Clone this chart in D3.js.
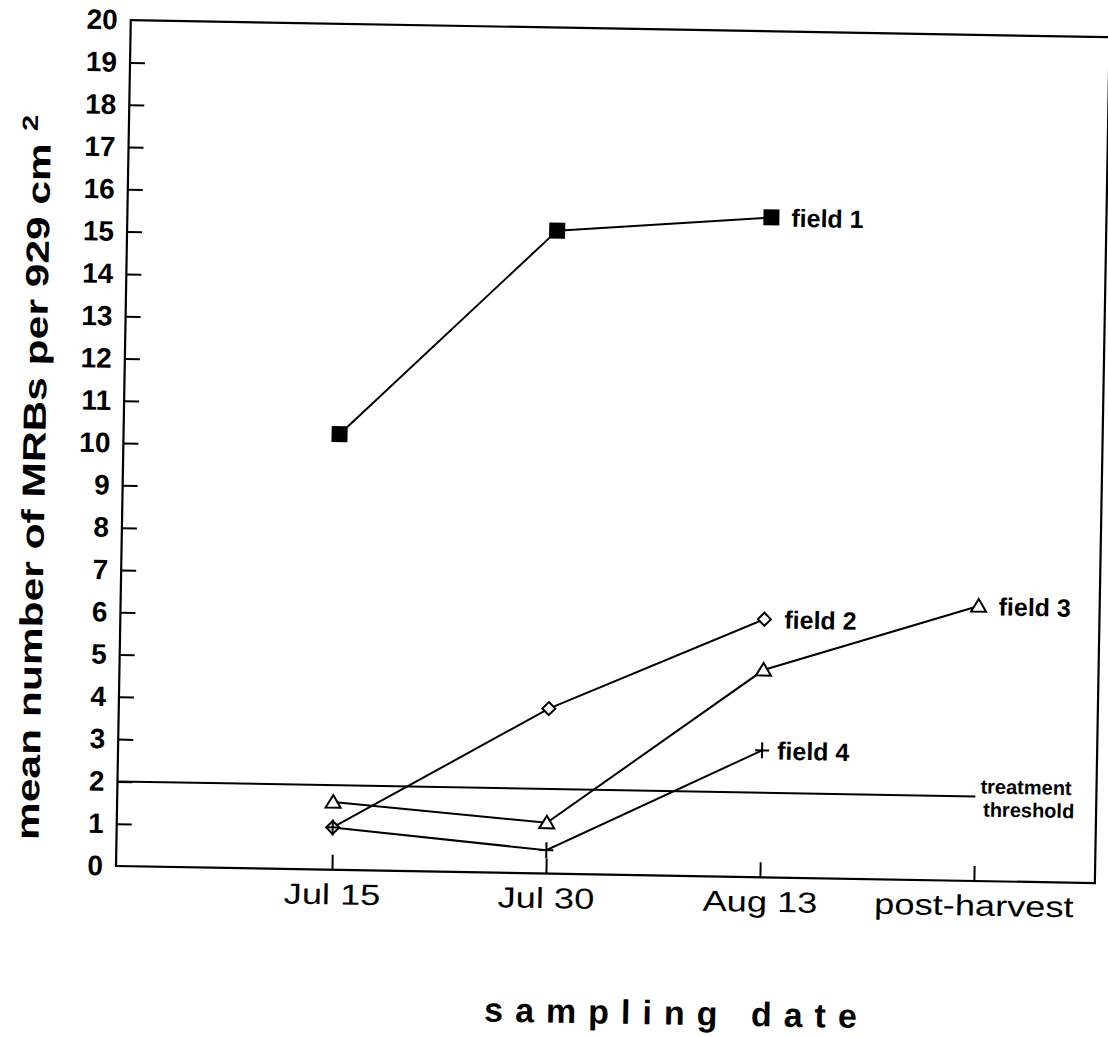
<!DOCTYPE html>
<html><head><meta charset="utf-8">
<script src="https://cdn.jsdelivr.net/npm/d3@7"></script>
<style>body{margin:0;background:#fff}svg{display:block}</style>
</head><body>
<svg id="c" width="1108" height="1037"></svg>
<script>
// ---- data ----
const categories = ["Jul 15", "Jul 30", "Aug 13", "post-harvest"];
const seriesNames = ["field 1", "field 2", "field 3", "field 4"];
const field1 = [10.3, 15.2, 15.6, null];
const field2 = [1.0, 3.9, 6.1, null];
const field3 = [1.6, 1.2, 4.9, 6.5];
const field4 = [1.0, 0.55, 3.0, null];
const yTickValues = d3.range(0, 21);
const threshold = 2;
const thresholdLabel = ["treatment", "threshold"];
const yTitle = "mean number of MRBs per 929 cm";
const yTitleSup = "2";
const xTitle = "sampling date";

// ---- layout ----
const W = 1108, H = 1037;
const pLeft = 116, pRight = 1095, pTop = 20, pBottom = 866;
const font = "'Liberation Sans', Arial, Helvetica, sans-serif";

const svg = d3.select("#c");
svg.append("rect").attr("width", W).attr("height", H).attr("fill", "#fff");
const g = svg.append("g").attr("transform", `rotate(1.0,${pLeft},${pBottom})`);

const x = d3.scalePoint().domain(categories).range([332, 974]);
const y = d3.scaleLinear().domain([0, 20]).range([pBottom, pTop]);

// frame
g.append("rect").attr("x", pLeft).attr("y", pTop)
  .attr("width", pRight - pLeft).attr("height", pBottom - pTop)
  .attr("fill", "none").attr("stroke", "#000").attr("stroke-width", 2.2);

// y axis
const ya = g.append("g").attr("transform", `translate(${pLeft},0)`)
  .call(d3.axisLeft(y).tickValues(yTickValues).tickFormat(d3.format("d"))
    .tickSize(-15).tickPadding(13));
ya.select(".domain").remove();
ya.selectAll(".tick line").attr("stroke", "#000").attr("stroke-width", 2)
  .filter(d => d === 0 || d === 20).remove();
ya.selectAll(".tick text").attr("fill", "#000")
  .style("font-family", font).style("font-size", "28px").style("font-weight", "bold");

// x axis
const xa = g.append("g").attr("transform", `translate(0,${pBottom})`)
  .call(d3.axisBottom(x).tickSize(-15).tickPadding(14));
xa.select(".domain").remove();
xa.selectAll(".tick line").attr("stroke", "#000").attr("stroke-width", 2);
xa.selectAll(".tick text").attr("fill", "#000")
  .style("font-family", font).style("font-size", "29px")
  .attr("transform", "scale(1.25,1)");

// threshold
const ty = y(threshold);
g.append("line").attr("x1", pLeft).attr("x2", x(categories[3]))
  .attr("y1", ty).attr("y2", ty).attr("stroke", "#000").attr("stroke-width", 2);
g.append("text").attr("x", x(categories[3]) + 5).attr("y", ty - 3)
  .style("font-family", font).style("font-size", "20px").style("font-weight", "bold")
  .text(thresholdLabel[0]);
g.append("text").attr("x", x(categories[3]) + 8).attr("y", ty + 20)
  .style("font-family", font).style("font-size", "20px").style("font-weight", "bold")
  .text(thresholdLabel[1]);

// series
const series = [field1, field2, field3, field4];
const line = d3.line().defined(d => d.v != null).x(d => x(d.c)).y(d => y(d.v));
const markerPaths = [
  "M-7,-7H7V7H-7Z",                 // filled square
  "M0,-6.5L6.5,0L0,6.5L-6.5,0Z",    // open diamond
  "M0,-7L7.5,5.5H-7.5Z",            // open triangle
  "M-7,0H7M0,-8V8"                  // plus
];
const markerFill = ["#000", "#fff", "#fff", "none"];

series.forEach((vals) => {
  const pts = vals.map((v, i) => ({ c: categories[i], v }));
  g.append("path").datum(pts).attr("d", line)
    .attr("fill", "none").attr("stroke", "#000").attr("stroke-width", 2);
});
series.forEach((vals, si) => {
  const pts = vals.map((v, i) => ({ c: categories[i], v })).filter(d => d.v != null);
  g.selectAll(null).data(pts).enter().append("path")
    .attr("transform", d => `translate(${x(d.c)},${y(d.v)})`)
    .attr("d", markerPaths[si])
    .attr("fill", markerFill[si]).attr("stroke", "#000").attr("stroke-width", 2);
  const last = pts[pts.length - 1];
  g.append("text").attr("x", x(last.c) + (si === 3 ? 15 : 20)).attr("y", y(last.v) + 9)
    .style("font-family", font).style("font-size", "25px").style("font-weight", "bold")
    .text(seriesNames[si]);
});

// axis titles
const yt = g.append("text").attr("transform", `translate(38,479) rotate(-90)`)
  .attr("text-anchor", "middle")
  .attr("textLength", 725).attr("lengthAdjust", "spacingAndGlyphs")
  .style("font-family", font).style("font-size", "32px").style("font-weight", "bold");
yt.append("tspan").text(yTitle + " ");
yt.append("tspan").attr("dy", -13).style("font-size", "22px").text(yTitleSup);

g.append("text").attr("x", 679).attr("y", 1015).attr("text-anchor", "middle")
  .style("font-family", font).style("font-size", "34px").style("font-weight", "bold")
  .style("letter-spacing", "12px")
  .text(xTitle);
</script>
</body></html>
